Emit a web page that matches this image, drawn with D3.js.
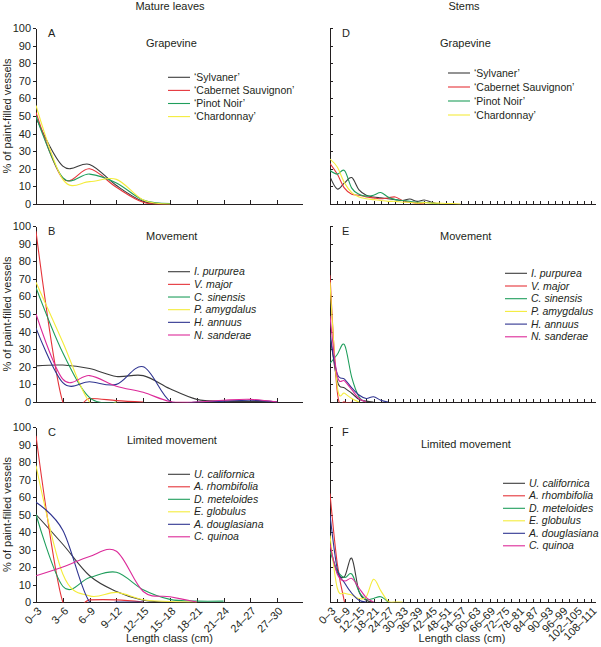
<!DOCTYPE html>
<html>
<head>
<meta charset="utf-8">
<script src="https://cdn.jsdelivr.net/npm/d3@7"></script>
<style>
body { margin: 0; background: #fff; }
svg text { font-family: "Liberation Sans", Arial, sans-serif; font-size: 11px; fill: #231f20; }
svg .legend text { font-size: 10.5px; }
.axis path, .axis line { stroke: #231f20; stroke-width: 1; shape-rendering: crispEdges; }
.series { fill: none; stroke-width: 1.1; }
</style>
</head>
<body>
<div id="chart"></div>
<script>
// length classes (cm)
var leafClasses = ["0–3", "3–6", "6–9", "9–12", "12–15", "15–18", "18–21", "21–24", "24–27", "27–30"];
var stemClasses = ["0–3", "3–6", "6–9", "9–12", "12–15", "15–18", "18–21", "21–24", "24–27", "27–30",
	"30–33", "33–36", "36–39", "39–42", "42–45", "45–48", "48–51", "51–54", "54–57", "57–60",
	"60–63", "63–66", "66–69", "69–72", "72–75", "75–78", "78–81", "81–84", "84–87", "87–90",
	"90–93", "93–96", "96–99", "99–102", "102–105", "105–108", "108–111"];
var yTicks = [0, 10, 20, 30, 40, 50, 60, 70, 80, 90, 100];

var grapevineNames = ["‘Sylvaner’", "‘Cabernet Sauvignon’", "‘Pinot Noir’", "‘Chardonnay’"];
var movementNames = ["I. purpurea", "V. major", "C. sinensis", "P. amygdalus", "H. annuus", "N. sanderae"];
var limitedNames = ["U. californica", "A. rhombifolia", "D. meteloides", "E. globulus", "A. douglasiana", "C. quinoa"];

// % of paint-filled vessels per length class
var leafGrapevine = [
	[49, 21.5, 22.5, 10.5, 1.5, 0],
	[52, 14.5, 20, 9.5, 1, 0],
	[50, 15, 17, 12, 2.3, 0.3],
	[56, 14, 12.7, 14, 2.3, 0]
];
var leafMovement = [
	[20.5, 21, 19, 14.5, 15, 7.5, 1.5, 0.5, 0.3, 0],
	[97, 0, 2, 0.8, 0],
	[65, 28, 2.5, 0],
	[68, 34, 0, 0],
	[42, 11, 11.5, 10, 20, 0.5, 0, 0.5, 1, 0],
	[50, 13, 15, 9, 5.5, 0.3, 0, 1, 1.5, 0]
];
var leafLimited = [
	[50, 33, 15, 6, 1, 0],
	[95, 0, 1.2, 1.2, 0],
	[50, 9, 14, 17, 7, 1.5, 0.5, 0.5],
	[78, 16, 3.5, 5.5, 1.3, 0.3, 0],
	[57, 41, 0, 0, 0],
	[15, 20, 26, 29, 6, 3, 0]
];
var stemGrapevine = [
	[15.5, 8.5, 12, 15, 8, 5, 4, 3.5, 3, 2.5, 2, 2.8, 1.5, 2.3, 1, 0],
	[23, 17, 9, 5.5, 5, 4, 3.5, 3, 3.5, 4, 2, 1, 0.5, 0],
	[19, 17, 19, 9, 5.5, 4.5, 5, 6.5, 4, 2.5, 2, 1.5, 1, 1, 0.5, 0],
	[25.5, 21, 12, 6.5, 4, 3, 2.5, 2, 1.5, 1.5, 1, 1, 0.5, 0.8, 0.5, 0.5, 0.3, 0.3, 0]
];
var stemMovement = [
	[40, 12, 8, 5, 1.5, 0.5, 0],
	[72, 6, 0, 0],
	[22, 27, 32.5, 14, 3, 0],
	[68, 9, 5, 2, 0],
	[37, 16, 13, 8, 4, 2, 3, 1, 0],
	[49, 15, 12, 7, 2, 0]
];
var stemLimited = [
	[32, 17, 14.5, 25, 6, 1, 0],
	[62, 22, 0],
	[29, 18, 14, 16, 6, 1.5, 2, 3, 0],
	[38, 8, 5, 4, 2, 3, 13, 6.5, 0.5, 0, 0],
	[50, 19, 11, 5, 1, 0],
	[33, 16, 12, 13.5, 8, 2.5, 0]
];

var colors = ["#3b3b3b", "#e5343a", "#1f9e5c", "#f4ec3c", "#2f3490", "#dc2a99"];

var width = 601, height = 647;
var svg = d3.select("#chart").append("svg")
	.attr("width", width)
	.attr("height", height);

var rows = [{top: 28, bottom: 204}, {top: 226, bottom: 402}, {top: 427, bottom: 602}];
var cols = [
	{left: 36, right: 277.2, axisEnd: 303, classes: leafClasses, xTick: 4, showY: true, labelEvery: 1},
	{left: 330, right: 591, axisEnd: 596, classes: stemClasses, xTick: 3, showY: false, labelEvery: 2}
];

var line = d3.line().curve(d3.curveCardinal.tension(0));

function drawPanel(c, r, p) {
	var x = d3.scalePoint().domain(c.classes).range([c.left, c.right]);
	var y = d3.scaleLinear().domain([0, 100]).range([r.bottom, r.top]);

	var g = svg.append("g");

	var ya = d3.axisLeft(y).tickValues(yTicks).tickSizeOuter(0);
	if (c.showY) ya.tickSizeInner(3).tickPadding(2);
	else ya.tickSizeInner(-3).tickFormat("");
	g.append("g").attr("class", "axis")
		.attr("transform", "translate(" + c.left + ",0)")
		.call(ya);

	var xa = d3.axisBottom(x).tickSizeInner(-c.xTick).tickSizeOuter(0);
	var gx = g.append("g").attr("class", "axis")
		.attr("transform", "translate(0," + r.bottom + ")")
		.call(xa);
	gx.select(".domain").remove();
	gx.append("line")
		.attr("x1", c.left).attr("x2", c.axisEnd)
		.attr("y1", 0.5).attr("y2", 0.5);
	if (p.showX) {
		gx.selectAll(".tick text")
			.attr("x", 0).attr("y", 0).attr("dy", "0.35em")
			.attr("text-anchor", "end")
			.attr("transform", "translate(3,7) rotate(-45)")
			.style("display", function(d, i) { return i % c.labelEvery === 0 ? null : "none"; });
	} else {
		gx.selectAll(".tick text").remove();
	}

	// keep the smoothed curves from dipping under the axis
	var clipId = "clip" + p.letter;
	svg.append("clipPath").attr("id", clipId)
		.append("rect")
		.attr("x", c.left).attr("y", r.top - 5)
		.attr("width", c.axisEnd - c.left)
		.attr("height", r.bottom - r.top + 5.6);

	line.x(function(d, i) { return x(c.classes[i]); })
		.y(function(d) { return y(d); });

	g.append("g").attr("clip-path", "url(#" + clipId + ")")
		.selectAll(".series")
		.data(p.values)
	  .enter().append("path")
		.attr("class", "series")
		.attr("stroke", function(d, i) { return colors[i]; })
		.attr("d", line);

	g.append("text").attr("x", c.left + 12).attr("y", r.top + 9).text(p.letter);
	g.append("text").attr("x", p.subX).attr("y", p.subY).text(p.sub);

	var leg = g.selectAll(".legend")
		.data(p.names)
	  .enter().append("g")
		.attr("class", "legend")
		.attr("transform", function(d, i) { return "translate(" + p.legX + "," + (p.legY + i * p.legDy) + ")"; });
	leg.append("line")
		.attr("x1", 0).attr("x2", 22)
		.attr("stroke", function(d, i) { return colors[i]; })
		.attr("stroke-width", 1.1);
	leg.append("text")
		.attr("x", 26).attr("dy", "0.35em")
		.style("font-style", p.italic ? "italic" : null)
		.text(function(d) { return d; });

	if (c.showY) {
		g.append("text")
			.attr("transform", "translate(11," + ((r.top + r.bottom) / 2) + ") rotate(-90)")
			.attr("text-anchor", "middle")
			.text("% of paint-filled vessels");
	}
	if (p.showX) {
		g.append("text")
			.attr("x", (c.left + c.axisEnd) / 2 + (c.showY ? 0 : -1))
			.attr("y", 642)
			.attr("text-anchor", "middle")
			.text("Length class (cm)");
	}
}

drawPanel(cols[0], rows[0], {letter: "A", sub: "Grapevine", subX: 146, subY: 47, names: grapevineNames, values: leafGrapevine,
	legX: 168, legY: 77.3, legDy: 13.1, italic: false, showX: false});
drawPanel(cols[0], rows[1], {letter: "B", sub: "Movement", subX: 146, subY: 240, names: movementNames, values: leafMovement,
	legX: 168, legY: 271.7, legDy: 12.66, italic: true, showX: false});
drawPanel(cols[0], rows[2], {letter: "C", sub: "Limited movement", subX: 127, subY: 444, names: limitedNames, values: leafLimited,
	legX: 168, legY: 474.3, legDy: 12.5, italic: true, showX: true});
drawPanel(cols[1], rows[0], {letter: "D", sub: "Grapevine", subX: 440, subY: 47, names: grapevineNames, values: stemGrapevine,
	legX: 448, legY: 73, legDy: 14, italic: false, showX: false});
drawPanel(cols[1], rows[1], {letter: "E", sub: "Movement", subX: 440, subY: 240, names: movementNames, values: stemMovement,
	legX: 505, legY: 273.3, legDy: 12.7, italic: true, showX: false});
drawPanel(cols[1], rows[2], {letter: "F", sub: "Limited movement", subX: 421, subY: 448, names: limitedNames, values: stemLimited,
	legX: 503, legY: 483.3, legDy: 12.5, italic: true, showX: true});

svg.append("text").attr("x", 170).attr("y", 10).attr("text-anchor", "middle").text("Mature leaves");
svg.append("text").attr("x", 464).attr("y", 10).attr("text-anchor", "middle").text("Stems");
</script>
</body>
</html>
